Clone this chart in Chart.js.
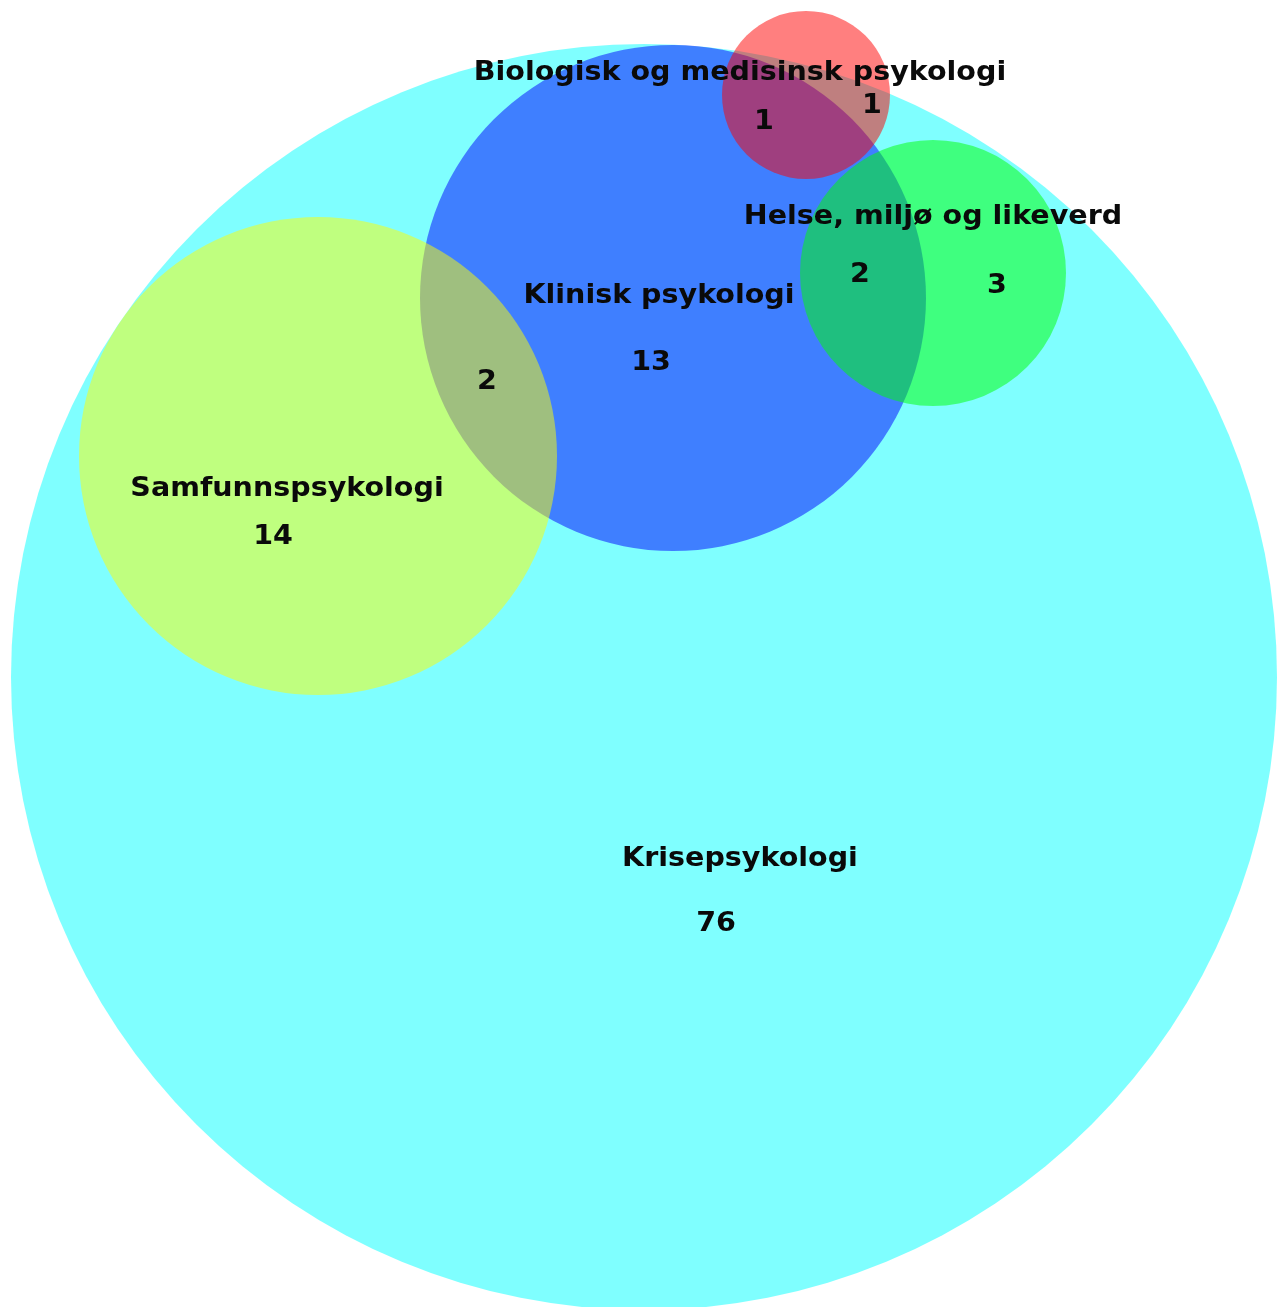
<!DOCTYPE html>
<html>
<head>
<meta charset="utf-8">
<script src="https://cdn.jsdelivr.net/npm/chart.js@4"></script>
<style>
  body { margin: 0; background: #fff; }
  #wrap { width: 1285px; height: 1307px; position: relative; }
</style>
</head>
<body>
<div id="wrap"><canvas id="vennChart"></canvas></div>
<script>
// sets, in drawing order
const setNames = ['Krisepsykologi', 'Klinisk psykologi', 'Samfunnspsykologi', 'Helse, miljø og likeverd', 'Biologisk og medisinsk psykologi'];
const setColors = ['rgba(0,255,255,0.5)', 'rgba(0,0,255,0.5)', 'rgba(255,255,0,0.5)', 'rgba(0,255,0,0.5)', 'rgba(255,0,0,0.5)'];

// region counts (which sets each region belongs to)
const regionSets = [
  ['Krisepsykologi'],
  ['Krisepsykologi', 'Klinisk psykologi'],
  ['Krisepsykologi', 'Samfunnspsykologi'],
  ['Krisepsykologi', 'Samfunnspsykologi', 'Klinisk psykologi'],
  ['Krisepsykologi', 'Helse, miljø og likeverd'],
  ['Krisepsykologi', 'Klinisk psykologi', 'Helse, miljø og likeverd'],
  ['Krisepsykologi', 'Biologisk og medisinsk psykologi'],
  ['Krisepsykologi', 'Klinisk psykologi', 'Biologisk og medisinsk psykologi']
];
const regionCounts = [76, 13, 14, 2, 3, 2, 1, 1];

// layout of the diagram (scale units)
const circleX = [644, 673, 318, 933, 806];
const circleY = [677, 298, 456, 273, 95];
const circleR = [633, 253, 239, 133, 84];
const setLabelX = [740, 659, 287, 933, 740];
const setLabelY = [859, 296, 489, 217, 73];
const regionLabelX = [716, 651, 273, 487, 997, 860, 872, 764];
const regionLabelY = [924, 363, 537, 382, 286, 275, 106, 122];

const textPlugin = {
  id: 'vennText',
  afterDatasetsDraw(chart) {
    const c = chart.ctx, sx = chart.scales.x, sy = chart.scales.y;
    const put = (txt, x, y) => {
      c.save();
      c.translate(sx.getPixelForValue(x), sy.getPixelForValue(y));
      c.scale(1.057, 1); // Verdana-like width
      c.fillText(txt, 0, 0);
      c.restore();
    };
    c.save();
    c.fillStyle = '#0a0a0a';
    c.textAlign = 'center';
    c.textBaseline = 'middle';
    c.font = 'bold 27px "DejaVu Sans"';
    setNames.forEach((n, i) => put(n, setLabelX[i], setLabelY[i]));
    regionCounts.forEach((v, i) => put(String(v), regionLabelX[i], regionLabelY[i]));
    c.restore();
  }
};

const ctx = document.getElementById('vennChart').getContext('2d');
const vennChart = new Chart(ctx, {
  type: 'bubble',
  data: {
    datasets: [{
      label: 'Sett',
      data: setNames.map((n, i) => ({ x: circleX[i], y: circleY[i], r: 1 })),
      backgroundColor: setColors,
      borderWidth: 0,
      clip: false
    }]
  },
  options: {
    responsive: true,
    maintainAspectRatio: false,
    animation: false,
    events: [],
    layout: { padding: 0, autoPadding: false },
    plugins: { legend: { display: false }, tooltip: { enabled: false } },
    scales: {
      x: { type: 'linear', display: false, min: 0, max: 1285 },
      y: { type: 'linear', display: false, min: 0, max: 1307, reverse: true }
    }
  },
  plugins: [textPlugin]
});

// bubble radius is in pixels: convert the radii from scale units
const sx = vennChart.scales.x;
vennChart.data.datasets[0].data.forEach((p, i) => {
  p.r = Math.abs(sx.getPixelForValue(circleR[i]) - sx.getPixelForValue(0));
});
vennChart.update();
</script>
</body>
</html>
